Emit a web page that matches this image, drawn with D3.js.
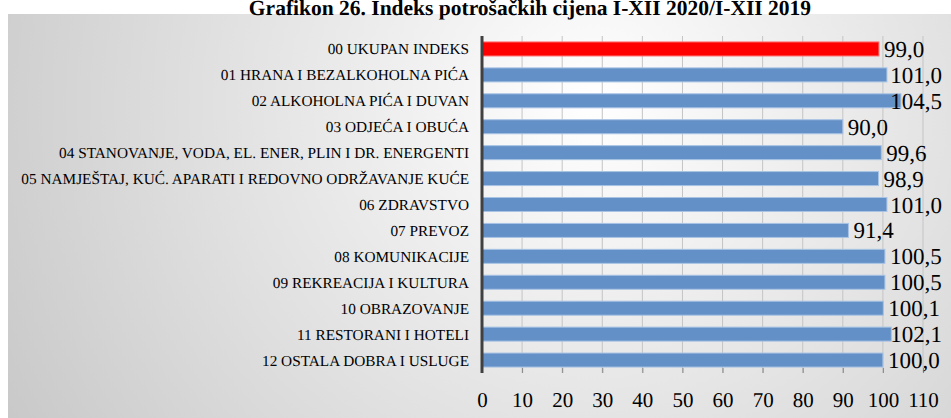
<!DOCTYPE html>
<html>
<head>
<meta charset="utf-8">
<script src="https://cdn.jsdelivr.net/npm/d3@7"></script>
<style>
  body { margin: 0; background: #fff; }
  svg text { font-family: 'Liberation Serif', 'Times New Roman', Times, serif !important; text-rendering: geometricPrecision; }
</style>
</head>
<body>
<div id="chart"></div>
<script>
// data
var categories = [
    "00 UKUPAN INDEKS",
    "01 HRANA I BEZALKOHOLNA PIĆA",
    "02 ALKOHOLNA PIĆA I DUVAN",
    "03 ODJEĆA I OBUĆA",
    "04 STANOVANJE, VODA, EL. ENER, PLIN I DR. ENERGENTI",
    "05 NAMJEŠTAJ, KUĆ. APARATI I REDOVNO ODRŽAVANJE KUĆE",
    "06 ZDRAVSTVO",
    "07 PREVOZ",
    "08 KOMUNIKACIJE",
    "09 REKREACIJA I KULTURA",
    "10 OBRAZOVANJE",
    "11 RESTORANI I HOTELI",
    "12 OSTALA DOBRA I USLUGE"
];
var values = [99.0, 101.0, 104.5, 90.0, 99.6, 98.9, 101.0, 91.4, 100.5, 100.5, 100.1, 102.1, 100.0];
var xTicks = [0, 10, 20, 30, 40, 50, 60, 70, 80, 90, 100, 110];
var title = "Grafikon 26. Indeks potrošačkih cijena I-XII 2020/I-XII 2019";

var W = 951, H = 418;
var m = {left: 482, right: 28, top: 36, bottom: 45};
var serif = "'Liberation Serif', 'Times New Roman', serif";

var svg = d3.select("#chart").append("svg")
    .attr("width", W)
    .attr("height", H);

// background gradient of the chart area
var defs = svg.append("defs");
var grad = defs.append("radialGradient")
    .attr("id", "bg")
    .attr("cx", "62%").attr("cy", "22%").attr("r", "75%")
    .attr("gradientTransform", "translate(0.62,0.22) scale(1,2.2) translate(-0.62,-0.22)");
grad.append("stop").attr("offset", "0%").attr("stop-color", "#ffffff");
grad.append("stop").attr("offset", "100%").attr("stop-color", "#c6c6c6");

svg.append("rect")
    .attr("x", 8).attr("y", 14)
    .attr("width", W - 8).attr("height", H - 14)
    .attr("fill", "url(#bg)");

svg.append("text")
    .attr("x", 530).attr("y", 15)
    .attr("text-anchor", "middle")
    .style("font-family", serif)
    .attr("font-size", 21.5)
    .attr("font-weight", "bold")
    .text(title);

var x = d3.scaleLinear()
    .domain([0, 110])
    .range([m.left, W - m.right]);

var y = d3.scaleBand()
    .domain(categories)
    .range([m.top, H - m.bottom])
    .paddingInner(0.46)
    .paddingOuter(0.23);

// gridlines
svg.append("g")
    .selectAll("line")
    .data(xTicks.slice(1))
    .enter()
    .append("line")
    .attr("x1", function (d) { return x(d); })
    .attr("x2", function (d) { return x(d); })
    .attr("y1", m.top)
    .attr("y2", H - m.bottom)
    .attr("stroke", "#c4c4c4")
    .attr("stroke-width", 1);

// x axis, ticks pointing inward
var xAxis = svg.append("g")
    .attr("transform", "translate(0," + (H - m.bottom) + ")")
    .call(d3.axisBottom(x).tickValues(xTicks).tickSize(-5).tickPadding(19).tickFormat(d3.format("d")));
xAxis.attr("font-family", serif);
xAxis.select(".domain").remove();
xAxis.selectAll(".tick line").attr("stroke", "#888");
xAxis.selectAll(".tick text")
    .style("font-family", serif)
    .attr("font-size", 21)
    .attr("fill", "#000");

// bars
svg.append("g")
    .selectAll("rect")
    .data(values)
    .enter()
    .append("rect")
    .attr("x", x(0))
    .attr("y", function (d, i) { return y(categories[i]); })
    .attr("width", function (d) { return x(d) - x(0); })
    .attr("height", y.bandwidth())
    .attr("fill", function (d, i) { return i === 0 ? "#ff0000" : "#6390c7"; })
    .attr("stroke", function (d, i) { return i === 0 ? "#ff6b6b" : "#a8c3e4"; })
    .attr("stroke-width", 1);

// value labels, pushed back inside the chart when they would run off the edge
svg.append("g")
    .selectAll("text")
    .data(values)
    .enter()
    .append("text")
    .attr("y", function (d, i) { return y(categories[i]) + y.bandwidth() / 2 + 8; })
    .style("font-family", serif)
    .attr("font-size", 23)
    .attr("fill", "#000")
    .text(function (d) { return d3.format(".1f")(d).replace(".", ","); })
    .attr("x", function (d) {
        var w = this.getComputedTextLength();
        return Math.min(x(d) + 5, W - 9 - w);
    });

// category labels
svg.append("g")
    .selectAll("text")
    .data(categories)
    .enter()
    .append("text")
    .attr("x", 469)
    .attr("y", function (d) { return y(d) + y.bandwidth() / 2 + 5.5; })
    .attr("text-anchor", "end")
    .style("font-family", serif)
    .attr("font-size", 15.3)
    .attr("fill", "#000")
    .text(function (d) { return d; });

// vertical axis line
svg.append("line")
    .attr("x1", x(0)).attr("x2", x(0))
    .attr("y1", m.top).attr("y2", H - m.bottom)
    .attr("stroke", "#404040")
    .attr("stroke-width", 3);
</script>
</body>
</html>
